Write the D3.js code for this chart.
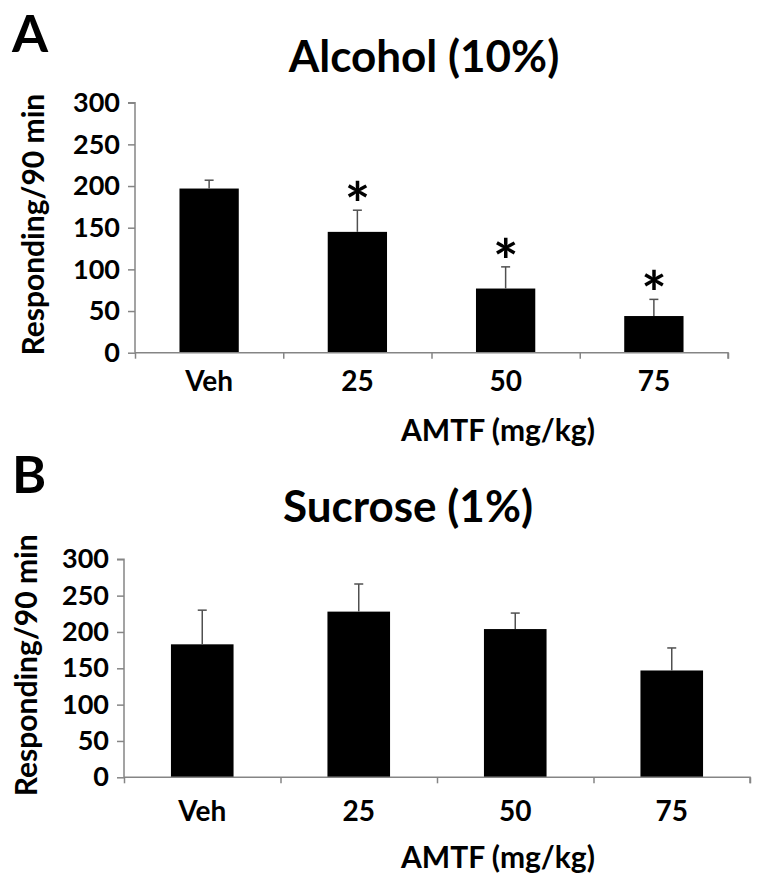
<!DOCTYPE html>
<html>
<head>
<meta charset="utf-8">
<script src="https://cdn.jsdelivr.net/npm/d3@7"></script>
<style>
  html, body { margin: 0; padding: 0; background: #fff; }
  svg { display: block; font-family: Lato, "Open Sans", sans-serif; }
</style>
</head>
<body>
<svg id="chart" width="764" height="878"></svg>
<script>
// ---- data ----
const categories = ["Veh", "25", "50", "75"];
const alcoholMeans = [197, 145, 77, 44];
const alcoholSEM = [10, 26, 26, 20];
const alcoholSig = [false, true, true, true];
const sucroseMeans = [183, 228, 204, 147];
const sucroseSEM = [47, 38, 22, 31];
const sucroseSig = [false, false, false, false];
const yTicks = [0, 50, 100, 150, 200, 250, 300];
const yMax = 300;
const xTitle = "AMTF (mg/kg)";
const yTitle = "Responding/90 min";

const svg = d3.select("#chart");
const axisColor = "#858585";
const errColor = "#505050";

const panels = [
  { letter: "A", letterY: 51.5, title: "Alcohol (10%)", titleX: 424, titleY: 72,
    means: alcoholMeans, sem: alcoholSEM, sig: alcoholSig,
    left: 135, right: 728, top: 102.7, bottom: 352.7,
    labelPad: 18, xTitleY: 441, yTitleX: 44 },
  { letter: "B", letterY: 493, title: "Sucrose (1%)", titleX: 408, titleY: 522,
    means: sucroseMeans, sem: sucroseSEM, sig: sucroseSig,
    left: 124, right: 750, top: 559.3, bottom: 777.3,
    labelPad: 24, xTitleY: 868, yTitleX: 37 }
];

panels.forEach(p => {
  const g = svg.append("g");
  const data = categories.map((c, i) => ({ c, m: p.means[i], e: p.sem[i], s: p.sig[i] }));

  const x = d3.scaleBand().domain(categories).range([p.left, p.right]).padding(0);
  const xb = d3.scaleLinear().domain([0, categories.length]).range([p.left, p.right]);
  const y = d3.scaleLinear().domain([0, yMax]).range([p.bottom, p.top]);
  const bw = x.bandwidth();

  // panel letter
  g.append("text").attr("x", 12).attr("y", p.letterY)
    .attr("font-size", 52).attr("font-weight", 700).text(p.letter);
  // title
  g.append("text").attr("x", p.titleX).attr("y", p.titleY)
    .attr("text-anchor", "middle").attr("font-size", 44).attr("font-weight", 700)
    .text(p.title);

  // bars
  g.selectAll("rect.bar").data(data).join("rect")
    .attr("class", "bar")
    .attr("x", d => x(d.c) + bw * 0.3)
    .attr("width", bw * 0.4)
    .attr("y", d => y(d.m))
    .attr("height", d => y(0) - y(d.m))
    .attr("fill", "#000");

  // error bars (upper only)
  const eb = g.selectAll("g.err").data(data).join("g").attr("class", "err")
    .attr("stroke", errColor).attr("stroke-width", 1.5);
  eb.append("line")
    .attr("x1", d => x(d.c) + bw / 2).attr("x2", d => x(d.c) + bw / 2)
    .attr("y1", d => y(d.m)).attr("y2", d => y(d.m + d.e));
  eb.append("line")
    .attr("x1", d => x(d.c) + bw / 2 - 4.5).attr("x2", d => x(d.c) + bw / 2 + 4.5)
    .attr("y1", d => y(d.m + d.e)).attr("y2", d => y(d.m + d.e));

  // significance asterisks
  g.selectAll("text.sig").data(data.filter(d => d.s)).join("text")
    .attr("class", "sig")
    .attr("x", d => x(d.c) + bw / 2)
    .attr("y", d => y(d.m + d.e) + 16)
    .attr("text-anchor", "middle")
    .attr("font-size", 60).attr("font-weight", 700)
    .text("*");

  // y axis
  const yAxis = g.append("g").attr("transform", `translate(${p.left},0)`)
    .call(d3.axisLeft(y).tickValues(yTicks).tickSize(7).tickPadding(8));
  yAxis.selectAll("path, line").attr("stroke", axisColor).attr("stroke-width", 1.5);
  yAxis.select(".domain").attr("d", `M-7,${p.top}H0V${p.bottom}`);
  yAxis.selectAll("text").attr("font-size", 27).attr("font-weight", 700)
    .attr("fill", "#000").attr("font-family", "Lato, sans-serif");

  // x axis boundary ticks
  const xAxis = g.append("g").attr("transform", `translate(0,${p.bottom})`)
    .call(d3.axisBottom(xb).ticks(categories.length).tickSize(6).tickFormat(""));
  xAxis.selectAll("path, line").attr("stroke", axisColor).attr("stroke-width", 1.5);
  xAxis.select(".domain").attr("d", `M${p.left},0H${p.right}V6`);

  // category labels
  const xLab = g.append("g").attr("transform", `translate(0,${p.bottom})`)
    .call(d3.axisBottom(x).tickSize(0).tickPadding(p.labelPad));
  xLab.select(".domain").remove();
  xLab.selectAll("text").attr("font-size", 28).attr("font-weight", 700)
    .attr("fill", "#000").attr("font-family", "Lato, sans-serif");

  // x title
  g.append("text").attr("x", 498).attr("y", p.xTitleY)
    .attr("text-anchor", "middle").attr("font-size", 30).attr("font-weight", 700)
    .text(xTitle);

  // y title
  g.append("text")
    .attr("transform", `translate(${p.yTitleX},${(p.top + p.bottom) / 2 - 3}) rotate(-90)`)
    .attr("text-anchor", "middle").attr("font-size", 30).attr("font-weight", 700)
    .text(yTitle);
});
</script>
</body>
</html>
